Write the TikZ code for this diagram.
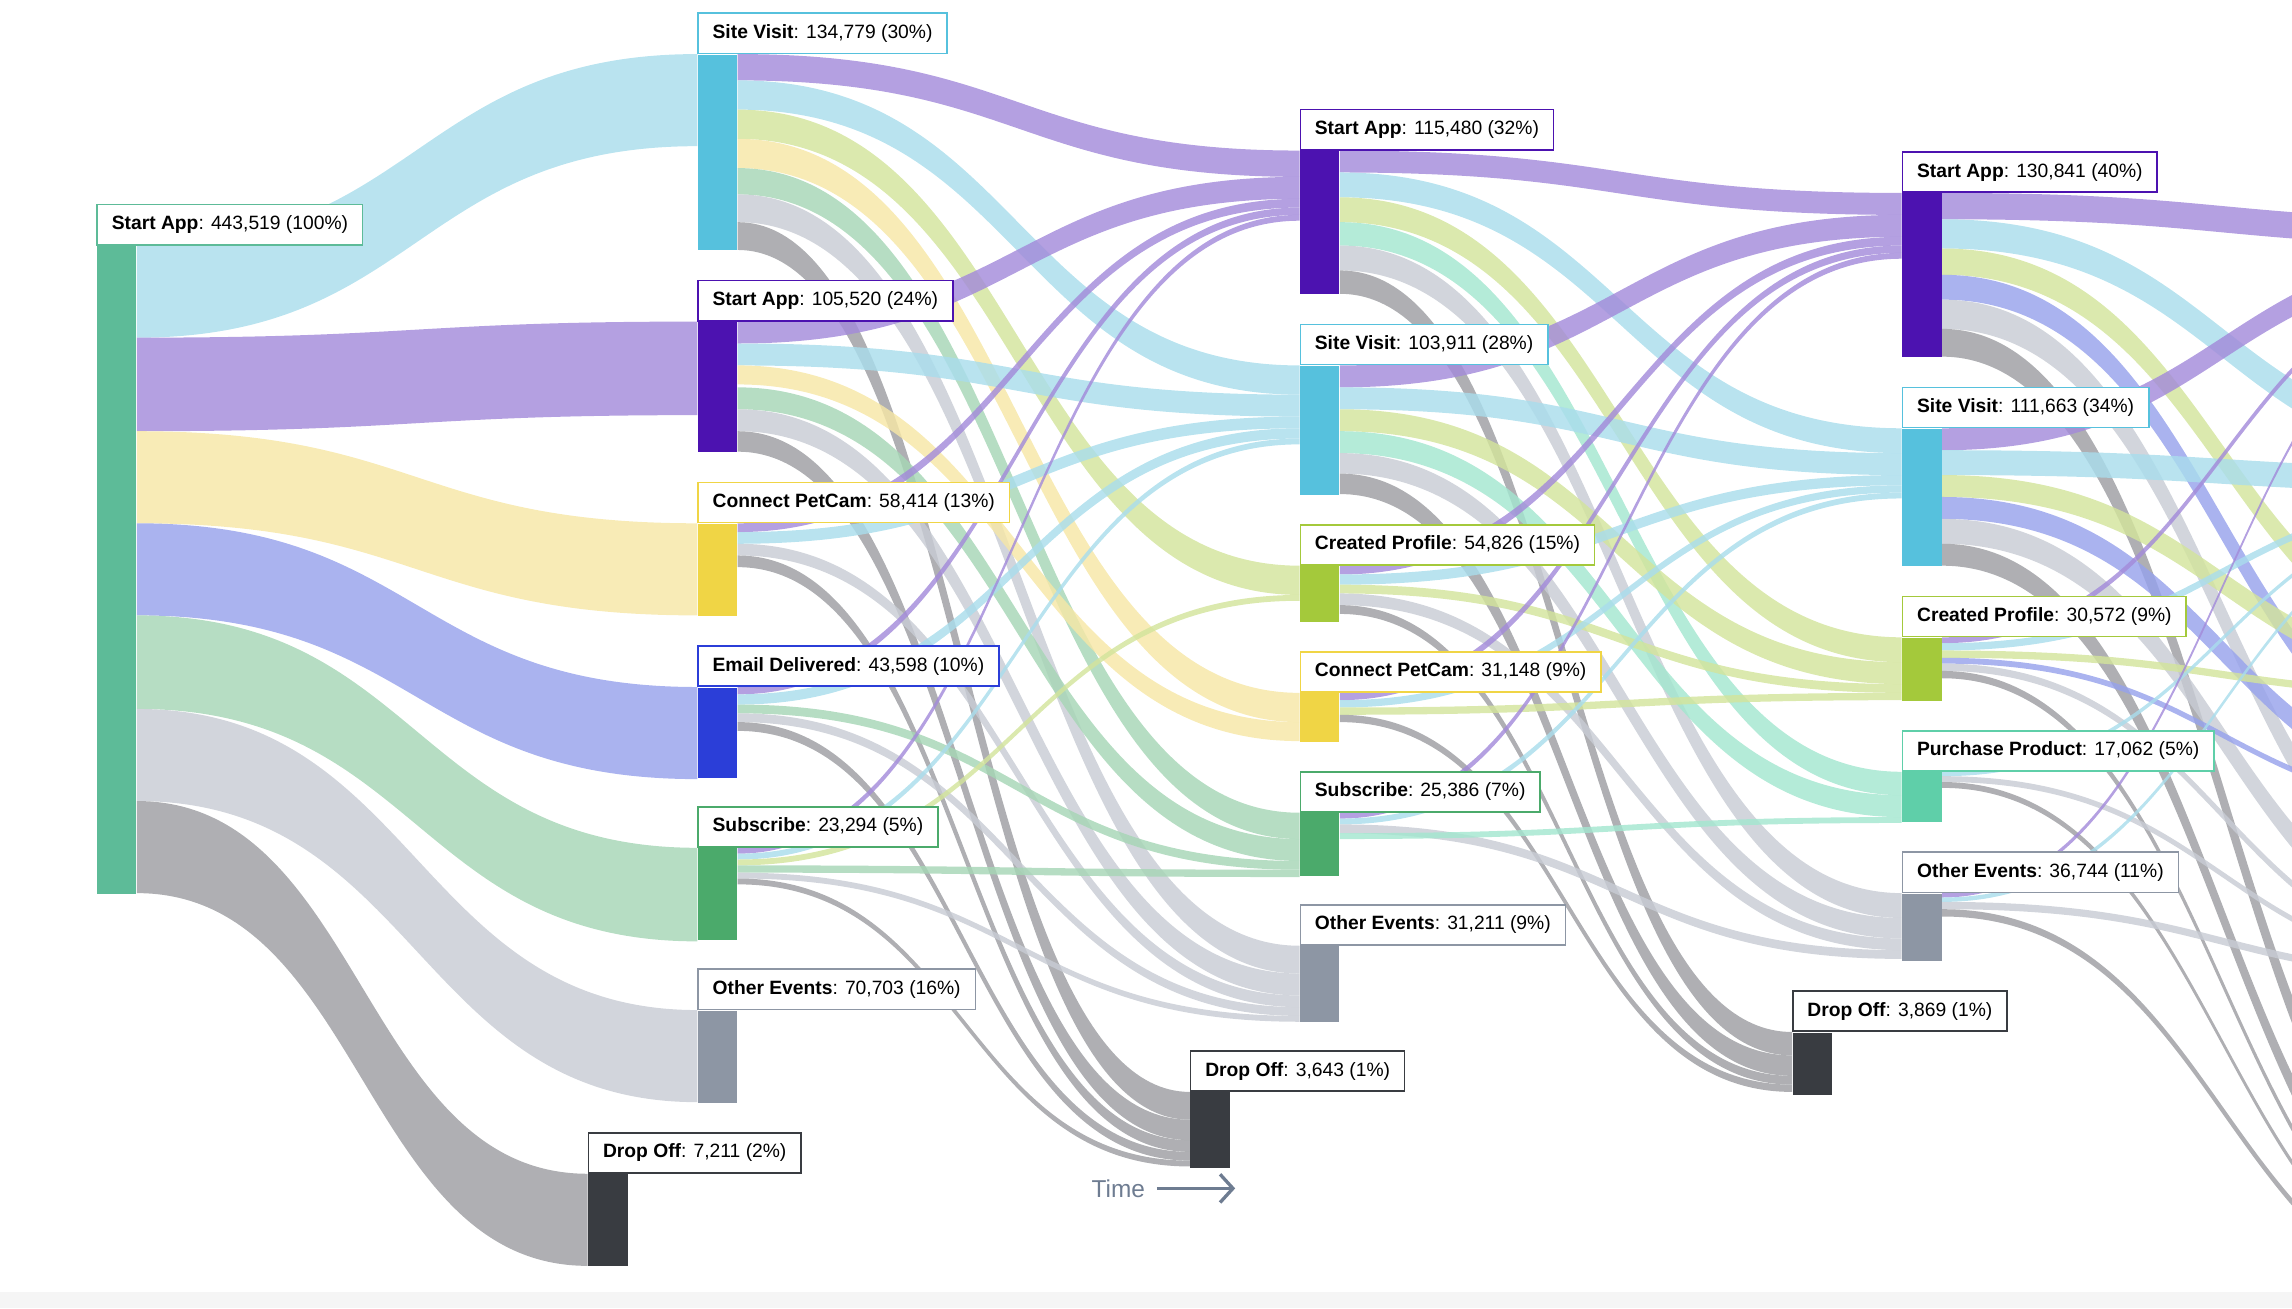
\documentclass[tikz,border=0pt]{standalone}
\usepackage{fontspec}
\setmainfont{Liberation Sans}
\usetikzlibrary{backgrounds}
\usetikzlibrary{calc}
\usetikzlibrary{arrows.meta}
\definecolor{sagreen}{HTML}{5DBB98}
\definecolor{cyanN}{HTML}{56C1DD}
\definecolor{purpleN}{HTML}{4C12B0}
\definecolor{yellowN}{HTML}{F0D545}
\definecolor{blueN}{HTML}{2B3ED8}
\definecolor{greenN}{HTML}{4BAA6B}
\definecolor{grayN}{HTML}{8D96A4}
\definecolor{darkN}{HTML}{393C41}
\definecolor{limeN}{HTML}{A4C93B}
\definecolor{mintN}{HTML}{5FCFA9}
\definecolor{cyanL}{HTML}{A9DDEC}
\definecolor{purpleL}{HTML}{A38BDA}
\definecolor{yellowL}{HTML}{F6E7A6}
\definecolor{blueL}{HTML}{97A2EC}
\definecolor{greenL}{HTML}{A6D6B6}
\definecolor{grayL}{HTML}{C8CCD4}
\definecolor{darkL}{HTML}{9D9EA2}
\definecolor{limeL}{HTML}{D3E49C}
\definecolor{mintL}{HTML}{A3E6CF}
\definecolor{timegray}{HTML}{6E7C91}
\tikzset{
  stagebox/.style={anchor=north west,inner sep=0pt,minimum width=0.54cm,draw=none},
  stagelbl/.style={anchor=south west,fill=white,line width=0.6pt,minimum height=0.55cm,
    inner xsep=0.2cm,inner ysep=0pt,font=\fontsize{7.5}{9}\selectfont},
  ghost/.style={anchor=north west,inner sep=0pt,minimum width=0pt,draw=none}
}
\newcommand{\stagebar}[6]{%
  \node[stagebox,fill=#5,minimum height={#4*0.02cm}] (#1) at (#2,#3) {};
  \node[stagelbl,draw=#5] (#1l) at (#1.north west) {#6};}
% src, offset, height, dst, offset, colour
\newcommand{\flowband}[6]{%
  \path ($(#1.north east)+(0,#2)$) coordinate (fa)
        ($(#1.north east)+(0,#2+#3)$) coordinate (fb)
        ($(#4.north west)+(0,#5)$) coordinate (fc)
        ($(#4.north west)+(0,#5+#3)$) coordinate (fd);
  \coordinate (fm) at ($(fa)!0.5!(fc)$);
  \fill[fill=#6,fill opacity=0.82] (fa) .. controls (fm |- fa) and (fm |- fc) .. (fc)
    -- (fd) .. controls (fm |- fd) and (fm |- fb) .. (fb) -- cycle;}
\begin{document}
\begin{tikzpicture}[x=0.02cm,y=-0.02cm]
  \useasboundingbox (0,0) rectangle (1568,895);
  \fill[black!4] (0,884) rectangle (1568,895);

  % stages
  \stagebar{SA1}{66}{168}{443}{sagreen}{\textbf{Start App}: 443,519 (100\%)}
  \stagebar{SV2}{477}{37}{134}{cyanN}{\textbf{Site Visit}: 134,779 (30\%)}
  \stagebar{SA2}{477}{220}{89}{purpleN}{\textbf{Start App}: 105,520 (24\%)}
  \stagebar{PC2}{477}{358}{63}{yellowN}{\textbf{Connect PetCam}: 58,414 (13\%)}
  \stagebar{EM2}{477}{470}{62}{blueN}{\textbf{Email Delivered}: 43,598 (10\%)}
  \stagebar{SU2}{477}{580}{63}{greenN}{\textbf{Subscribe}: 23,294 (5\%)}
  \stagebar{OE2}{477}{691}{63}{grayN}{\textbf{Other Events}: 70,703 (16\%)}
  \stagebar{DO2}{402}{803}{63}{darkN}{\textbf{Drop Off}: 7,211 (2\%)}
  \stagebar{SA3}{889}{103}{98}{purpleN}{\textbf{Start App}: 115,480 (32\%)}
  \stagebar{SV3}{889}{250}{88}{cyanN}{\textbf{Site Visit}: 103,911 (28\%)}
  \stagebar{CP3}{889}{387}{38}{limeN}{\textbf{Created Profile}: 54,826 (15\%)}
  \stagebar{PC3}{889}{474}{33}{yellowN}{\textbf{Connect PetCam}: 31,148 (9\%)}
  \stagebar{SU3}{889}{556}{43}{greenN}{\textbf{Subscribe}: 25,386 (7\%)}
  \stagebar{OE3}{889}{647}{52}{grayN}{\textbf{Other Events}: 31,211 (9\%)}
  \stagebar{DO3}{814}{747}{52}{darkN}{\textbf{Drop Off}: 3,643 (1\%)}
  \stagebar{SA4}{1301}{132}{112}{purpleN}{\textbf{Start App}: 130,841 (40\%)}
  \stagebar{SV4}{1301}{293}{94}{cyanN}{\textbf{Site Visit}: 111,663 (34\%)}
  \stagebar{CP4}{1301}{436}{43}{limeN}{\textbf{Created Profile}: 30,572 (9\%)}
  \stagebar{PP4}{1301}{528}{34}{mintN}{\textbf{Purchase Product}: 17,062 (5\%)}
  \stagebar{OE4}{1301}{611}{46}{grayN}{\textbf{Other Events}: 36,744 (11\%)}
  \stagebar{DO4}{1226}{706}{43}{darkN}{\textbf{Drop Off}: 3,869 (1\%)}

  % next step, out of view
  \node[ghost] (SA5) at (1713,150) {};
  \node[ghost] (SV5) at (1713,300) {};
  \node[ghost] (CP5) at (1713,440) {};
  \node[ghost] (EM5) at (1713,520) {};
  \node[ghost] (OE5) at (1713,620) {};
  \node[ghost] (DO5) at (1713,850) {};

  \node[font=\fontsize{9.5}{11}\selectfont,text=timegray,inner sep=1pt] (time) at (765,813) {Time};
  \coordinate (timeend) at (845,813);
  \draw[timegray,line width=1.3pt,-{Straight Barb[length=5pt,width=11pt]}]
    ($(time.east)+(6,0)$) -- (timeend);

  \begin{scope}[on background layer]
    \clip (0,0) rectangle (1568,895);
    % step 1
    \flowband{SA1}{0}{63}{SV2}{0}{cyanL}
    \flowband{SA1}{63}{64}{SA2}{0}{purpleL}
    \flowband{SA1}{127}{63}{PC2}{0}{yellowL}
    \flowband{SA1}{190}{63}{EM2}{0}{blueL}
    \flowband{SA1}{253}{64}{SU2}{0}{greenL}
    \flowband{SA1}{317}{63}{OE2}{0}{grayL}
    \flowband{SA1}{380}{63}{DO2}{0}{darkL}
    % step 2
    \flowband{SV2}{0}{18}{SA3}{0}{purpleL}
    \flowband{SV2}{18}{20}{SV3}{0}{cyanL}
    \flowband{SV2}{38}{20}{CP3}{0}{limeL}
    \flowband{SV2}{58}{20}{PC3}{0}{yellowL}
    \flowband{SV2}{78}{18}{SU3}{0}{greenL}
    \flowband{SV2}{96}{19}{OE3}{0}{grayL}
    \flowband{SV2}{115}{19}{DO3}{0}{darkL}
    \flowband{SA2}{0}{15}{SA3}{18}{purpleL}
    \flowband{SA2}{15}{15}{SV3}{20}{cyanL}
    \flowband{SA2}{30}{13}{PC3}{20}{yellowL}
    \flowband{SA2}{45}{15}{SU3}{18}{greenL}
    \flowband{SA2}{60}{15}{OE3}{19}{grayL}
    \flowband{SA2}{75}{14}{DO3}{19}{darkL}
    \flowband{PC2}{0}{6}{SA3}{33}{purpleL}
    \flowband{PC2}{6}{8}{SV3}{35}{cyanL}
    \flowband{PC2}{14}{8}{OE3}{34}{grayL}
    \flowband{PC2}{22}{8}{DO3}{33}{darkL}
    \flowband{EM2}{0}{5}{SA3}{39}{purpleL}
    \flowband{EM2}{5}{7}{SV3}{43}{cyanL}
    \flowband{EM2}{12}{6}{SU3}{33}{greenL}
    \flowband{EM2}{18}{6}{OE3}{42}{grayL}
    \flowband{EM2}{24}{6}{DO3}{41}{darkL}
    \flowband{SU2}{0}{4}{SA3}{44}{purpleL}
    \flowband{SU2}{4}{4}{SV3}{50}{cyanL}
    \flowband{SU2}{8}{4}{CP3}{20}{limeL}
    \flowband{SU2}{12}{5}{SU3}{39}{greenL}
    \flowband{SU2}{17}{4}{OE3}{48}{grayL}
    \flowband{SU2}{21}{4}{DO3}{47}{darkL}
    % step 3
    \flowband{SA3}{0}{15}{SA4}{0}{purpleL}
    \flowband{SA3}{15}{17}{SV4}{0}{cyanL}
    \flowband{SA3}{32}{17}{CP4}{0}{limeL}
    \flowband{SA3}{49}{16}{PP4}{0}{mintL}
    \flowband{SA3}{65}{17}{OE4}{0}{grayL}
    \flowband{SA3}{82}{16}{DO4}{0}{darkL}
    \flowband{SV3}{0}{15}{SA4}{15}{purpleL}
    \flowband{SV3}{15}{15}{SV4}{17}{cyanL}
    \flowband{SV3}{30}{15}{CP4}{17}{limeL}
    \flowband{SV3}{45}{15}{PP4}{16}{mintL}
    \flowband{SV3}{60}{14}{OE4}{17}{grayL}
    \flowband{SV3}{74}{14}{DO4}{16}{darkL}
    \flowband{CP3}{0}{6}{SA4}{30}{purpleL}
    \flowband{CP3}{6}{7}{SV4}{32}{cyanL}
    \flowband{CP3}{13}{6}{CP4}{32}{limeL}
    \flowband{CP3}{19}{8}{OE4}{31}{grayL}
    \flowband{CP3}{27}{6}{DO4}{30}{darkL}
    \flowband{PC3}{0}{5}{SA4}{36}{purpleL}
    \flowband{PC3}{5}{5}{SV4}{39}{cyanL}
    \flowband{PC3}{10}{5}{CP4}{38}{limeL}
    \flowband{PC3}{15}{5}{DO4}{36}{darkL}
    \flowband{SU3}{0}{4}{SA4}{41}{purpleL}
    \flowband{SU3}{4}{4}{SV4}{44}{cyanL}
    \flowband{SU3}{8}{6}{OE4}{39}{grayL}
    \flowband{SU3}{14}{4}{PP4}{31}{mintL}
    % step 4
    \flowband{SA4}{0}{18}{SA5}{0}{purpleL}
    \flowband{SA4}{18}{20}{SV5}{0}{cyanL}
    \flowband{SA4}{38}{18}{CP5}{0}{limeL}
    \flowband{SA4}{56}{17}{EM5}{0}{blueL}
    \flowband{SA4}{73}{20}{OE5}{0}{grayL}
    \flowband{SA4}{93}{19}{DO5}{0}{darkL}
    \flowband{SV4}{0}{15}{SA5}{18}{purpleL}
    \flowband{SV4}{15}{17}{SV5}{20}{cyanL}
    \flowband{SV4}{32}{15}{CP5}{18}{limeL}
    \flowband{SV4}{47}{15}{EM5}{17}{blueL}
    \flowband{SV4}{62}{17}{OE5}{20}{grayL}
    \flowband{SV4}{79}{15}{DO5}{19}{darkL}
    \flowband{CP4}{0}{4}{SA5}{33}{purpleL}
    \flowband{CP4}{4}{5}{SV5}{37}{cyanL}
    \flowband{CP4}{9}{5}{CP5}{33}{limeL}
    \flowband{CP4}{14}{4}{EM5}{32}{blueL}
    \flowband{CP4}{18}{5}{OE5}{37}{grayL}
    \flowband{CP4}{23}{5}{DO5}{34}{darkL}
    \flowband{PP4}{0}{3}{SV5}{42}{cyanL}
    \flowband{PP4}{3}{4}{OE5}{42}{grayL}
    \flowband{PP4}{7}{4}{DO5}{39}{darkL}
    \flowband{OE4}{0}{3}{SA5}{37}{purpleL}
    \flowband{OE4}{3}{3}{SV5}{45}{cyanL}
    \flowband{OE4}{6}{5}{OE5}{46}{grayL}
    \flowband{OE4}{11}{5}{DO5}{43}{darkL}
  \end{scope}
\end{tikzpicture}
\end{document}
